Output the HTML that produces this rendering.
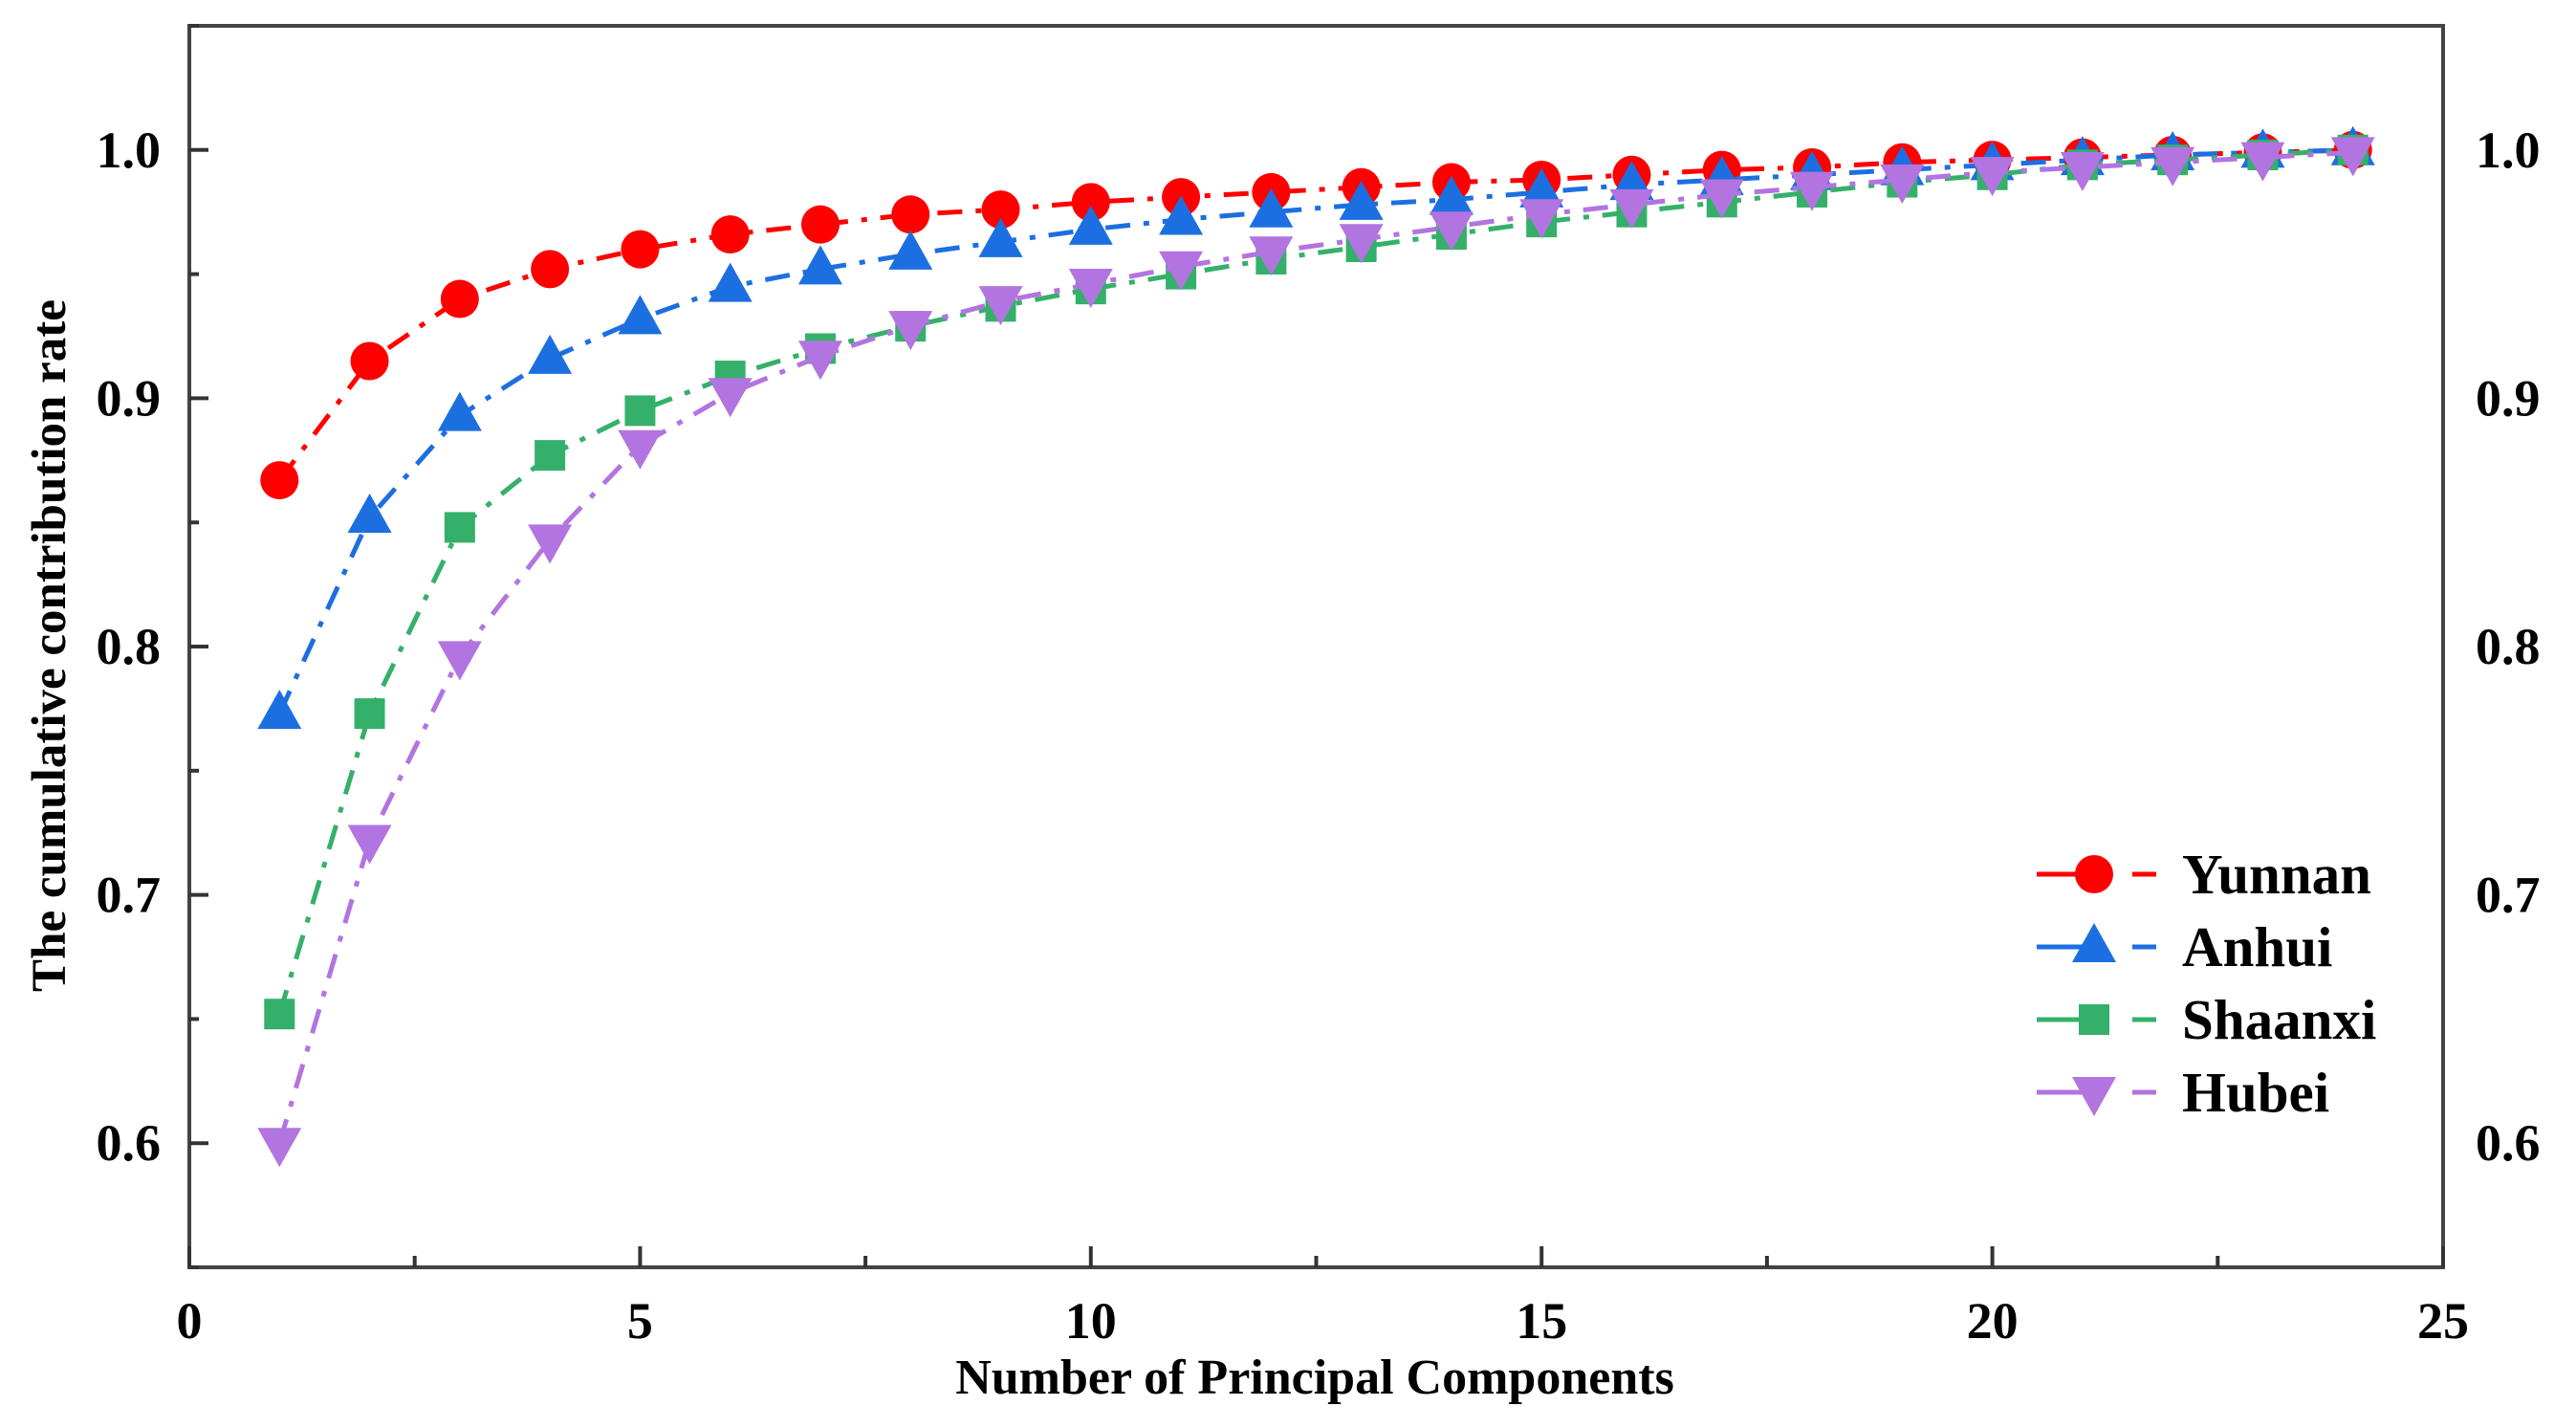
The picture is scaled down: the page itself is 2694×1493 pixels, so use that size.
<!DOCTYPE html>
<html><head><meta charset="utf-8"><style>
html,body{margin:0;padding:0;background:#fff;}
svg{display:block;font-family:"Liberation Serif",serif;font-weight:bold;}
</style></head><body>
<svg id="chart" width="2694" height="1493" viewBox="0 0 2694 1493">
<g id="marks"></g>
<g id="axes"></g>
<text x="1375" y="1457" text-anchor="middle" font-size="52">Number of Principal Components</text>
<text transform="translate(68,675) rotate(-90)" text-anchor="middle" font-size="51">The cumulative contribution rate</text>
<g id="legend"></g>
</svg>
<script>
const components = [1,2,3,4,5,6,7,8,9,10,11,12,13,14,15,16,17,18,19,20,21,22,23,24];
const yunnan  = [0.867,0.915,0.940,0.952,0.960,0.966,0.970,0.974,0.976,0.979,0.981,0.983,0.985,0.987,0.988,0.990,0.992,0.993,0.995,0.996,0.997,0.998,0.999,1.000];
const anhui   = [0.773,0.852,0.893,0.916,0.932,0.945,0.952,0.958,0.963,0.968,0.972,0.975,0.978,0.980,0.983,0.986,0.988,0.990,0.992,0.994,0.996,0.998,0.999,1.000];
const shaanxi = [0.652,0.773,0.848,0.877,0.895,0.909,0.920,0.929,0.937,0.944,0.950,0.956,0.961,0.966,0.971,0.975,0.979,0.983,0.987,0.990,0.994,0.996,0.998,1.000];
const hubei   = [0.600,0.722,0.796,0.843,0.881,0.902,0.917,0.929,0.939,0.946,0.953,0.959,0.964,0.969,0.974,0.978,0.982,0.985,0.988,0.991,0.993,0.995,0.997,0.999];
const seriesNames = ["Yunnan","Anhui","Shaanxi","Hubei"];
const xTicks = [0,5,10,15,20,25];
const xTickLabels = ["0","5","10","15","20","25"];
const yTicks = [0.6,0.7,0.8,0.9,1.0];
const yTickLabels = ["0.6","0.7","0.8","0.9","1.0"];

const L=198,R=2555,T=27,B=1325, XMIN=0,XMAX=25,YMIN=0.55,YMAX=1.05;
const sx=v=>L+(v-XMIN)/(XMAX-XMIN)*(R-L);
const sy=v=>B-(v-YMIN)/(YMAX-YMIN)*(B-T);
const NS="http://www.w3.org/2000/svg";
function mk(tag,attrs,parent){const e=document.createElementNS(NS,tag);for(const k in attrs)e.setAttribute(k,attrs[k]);parent.appendChild(e);return e;}

const styles=[
 {data:yunnan,color:"#ff0000",shape:"circle"},
 {data:anhui,color:"#1c6fe0",shape:"up"},
 {data:shaanxi,color:"#35b06a",shape:"square"},
 {data:hubei,color:"#b274e0",shape:"down"}];

function marker(shape,x,y,color,parent){
  let e;
  if(shape==="circle") e=mk("circle",{cx:x,cy:y,r:20,fill:color},parent);
  else if(shape==="square") e=mk("rect",{x:x-16,y:y-16,width:32,height:32,fill:color},parent);
  else if(shape==="up") e=mk("polygon",{points:`${x},${y-25} ${x+23},${y+16} ${x-23},${y+16}`,fill:color},parent);
  else e=mk("polygon",{points:`${x},${y+25} ${x+23},${y-16} ${x-23},${y-16}`,fill:color},parent);
  return e;
}

const marks=document.getElementById("marks");
styles.forEach((s,i)=>{
  const g=mk("g",{},marks);
  
  
  const pts=components.map((c,j)=>sx(c)+","+sy(s.data[j])).join(" ");
  const line=mk("polyline",{points:pts,fill:"none",stroke:s.color,"stroke-width":5,"stroke-dasharray":"26 14 6 14"},g);
  
  
  components.forEach((c,j)=>{
    const m=marker(s.shape,sx(c),sy(s.data[j]),s.color,g);
    
    
  });
});

const axes=document.getElementById("axes");
const frame=mk("rect",{x:L,y:T,width:R-L,height:B-T,fill:"none",stroke:"#444","stroke-width":4},axes);


xTicks.forEach((v,i)=>{
  mk("line",{x1:sx(v),x2:sx(v),y1:B,y2:B-22,stroke:"#333","stroke-width":4},axes);
  if(i<xTicks.length-1) mk("line",{x1:sx(v+2.5),x2:sx(v+2.5),y1:B,y2:B-12,stroke:"#333","stroke-width":4},axes);
  const t=mk("text",{x:sx(v),y:B+74,"text-anchor":"middle","font-size":54},axes);
  t.textContent=xTickLabels[i];
  
  
});
yTicks.forEach((v,i)=>{
  mk("line",{x1:L,x2:L+20,y1:sy(v),y2:sy(v),stroke:"#333","stroke-width":4},axes);
  mk("line",{x1:L,x2:L+10,y1:sy(v+0.05),y2:sy(v+0.05),stroke:"#333","stroke-width":4},axes);
  const t=mk("text",{x:L-30,y:sy(v)+18,"text-anchor":"end","font-size":54},axes);
  t.textContent=yTickLabels[i];
  
  
  const t2=mk("text",{x:R+34,y:sy(v)+18,"text-anchor":"start","font-size":54},axes);
  t2.textContent=yTickLabels[i];
  
  
});
mk("line",{x1:L,x2:L+10,y1:sy(0.55),y2:sy(0.55),stroke:"#333","stroke-width":4},axes);

const legend=document.getElementById("legend");
styles.forEach((s,i)=>{
  const y=914+i*76;
  const g=mk("g",{},legend);
  
  
  mk("line",{x1:2130,x2:2200,y1:y,y2:y,stroke:s.color,"stroke-width":5},g);
  mk("line",{x1:2230,x2:2255,y1:y,y2:y,stroke:s.color,"stroke-width":5},g);
  marker(s.shape,2190,y,s.color,g);
  const t=mk("text",{x:2282,y:y+20,"font-size":59},g);
  t.textContent=seriesNames[i];
});
</script>
</body></html>
